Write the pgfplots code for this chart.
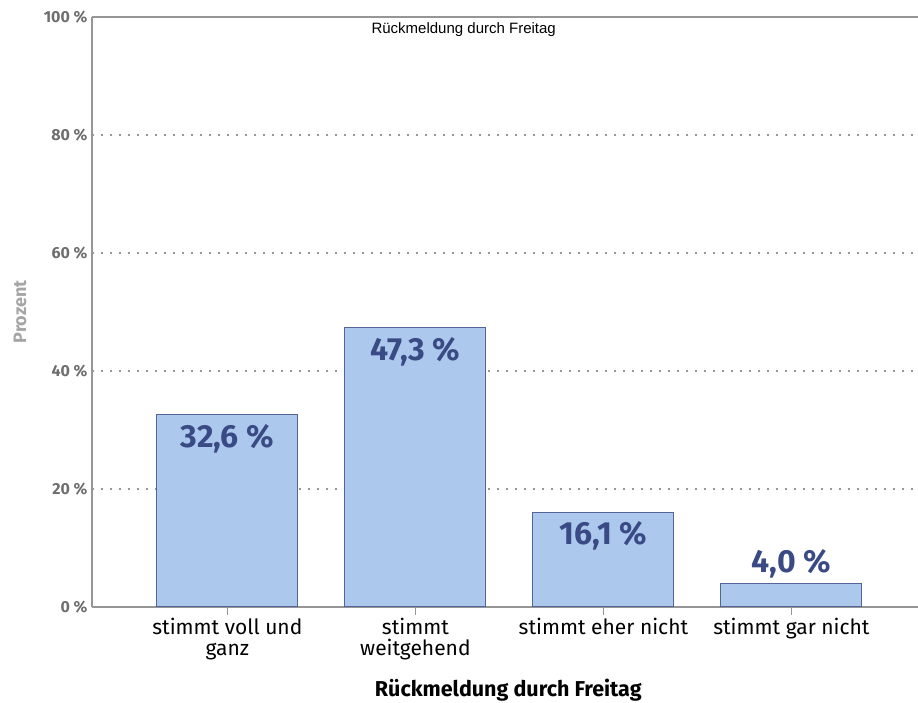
\documentclass[border=0pt]{standalone}
\usepackage{pgfplots}
\pgfplotsset{compat=1.18}
\usepackage{fontspec}
\setmainfont{Fira Sans}
\newfontfamily\arialfont{Liberation Sans}
\definecolor{barfill}{RGB}{172,201,237}
\definecolor{bardraw}{RGB}{85,100,150}
\definecolor{lblblue}{RGB}{58,74,132}
\definecolor{axgray}{RGB}{150,150,150}
\definecolor{tickgray}{RGB}{110,110,110}
\definecolor{labgray}{RGB}{165,165,165}
\begin{document}
\begin{tikzpicture}
\useasboundingbox (-92pt,-96pt) rectangle (826pt,607pt);
\begin{axis}[
  at={(0,0)}, anchor=south west, scale only axis,
  width=826pt, height=590pt,
  xmin=-0.72, xmax=3.673, ymin=0, ymax=100,
  axis x line=box, axis y line=left,
  axis line style={-, axgray, line width=1.8pt},
  /pgf/number format/assume math mode=true,
  ytick={0,20,...,100},
  yticklabel={\pgfmathprintnumber{\tick} \%},
  yticklabel style={font=\bfseries\fontsize{16}{18}\selectfont, text=tickgray, xshift=7pt},
  ytick style={draw=none},
  ymajorgrids,
  grid style={axgray, line width=1.6pt, dash pattern=on 1.6pt off 7.4pt},
  xtick={0,1,2,3},
  xticklabels={{stimmt voll und\\ganz},{stimmt\\weitgehend},{stimmt eher nicht},{stimmt gar nicht}},
  xtick pos=bottom,
  tick align=outside,
  major tick length=8pt,
  xtick style={axgray, line width=1.5pt},
  xticklabel style={align=center, font=\fontsize{21}{21}\selectfont, text=black},
  xlabel={Rückmeldung durch Freitag},
  xlabel style={at={(axis description cs:0.504,-0.152)}, anchor=base, font=\bfseries\fontsize{21.5}{24}\selectfont},
  ylabel={Prozent},
  ylabel style={at={(axis description cs:-0.0872,0.5)}, anchor=center, font=\bfseries\fontsize{18}{20}\selectfont, text=labgray},
]
\addplot[ybar, bar width=141pt, fill=barfill, draw=bardraw, line width=1pt]
  coordinates {(0,32.6) (1,47.3) (2,16.1) (3,4.0)};
\addplot[draw=none, mark=none, forget plot, point meta=y,
  nodes near coords={\pgfmathprintnumber[fixed,fixed zerofill,precision=1,use comma]{\pgfplotspointmeta} \%},
  nodes near coords style={anchor=north, yshift=-6pt, font=\bfseries\fontsize{32}{36}\selectfont, text=lblblue}]
  coordinates {(0,32.6) (1,47.3) (2,16.1)};
\addplot[draw=none, mark=none, forget plot, point meta=y,
  nodes near coords={\pgfmathprintnumber[fixed,fixed zerofill,precision=1,use comma]{\pgfplotspointmeta} \%},
  nodes near coords style={anchor=south, yshift=2pt, font=\bfseries\fontsize{32}{36}\selectfont, text=lblblue}]
  coordinates {(3,4.0)};
\node[font=\arialfont\fontsize{15}{17}\selectfont, anchor=center] at (rel axis cs:0.45,0.978) {Rückmeldung durch Freitag};
\end{axis}
\end{tikzpicture}
\end{document}
